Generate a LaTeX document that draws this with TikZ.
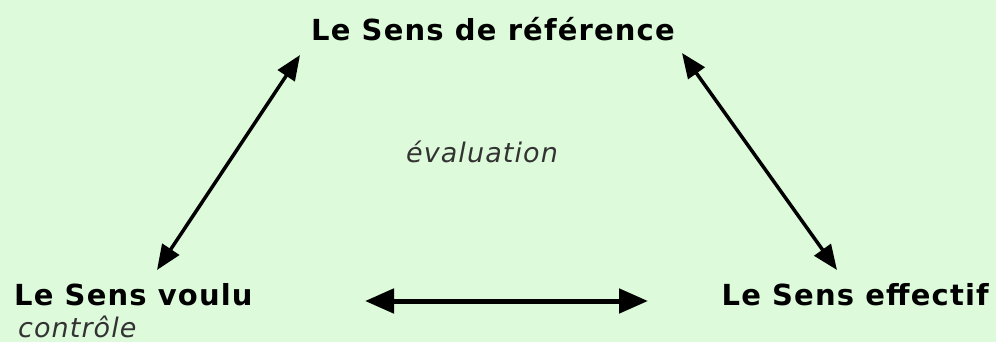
\documentclass[tikz,border=0pt]{standalone}
\usepackage{fontspec}
\usepackage{tikz}
\usetikzlibrary{arrows.meta}
\newfontfamily\sensfont{DejaVu Sans}[LetterSpace=4]
\definecolor{palegreen}{HTML}{DDFBDB}
\begin{document}
\begin{tikzpicture}[
			x=1pt,y=-1pt,
			every node/.style={inner sep=0pt},
			sens/.style={font=\sensfont\bfseries\fontsize{29}{30}\selectfont},
			note/.style={font=\sensfont\itshape\fontsize{27}{30}\selectfont,text=black!80},
			arr/.style={{Triangle[length=25pt,width=20pt]}-{Triangle[length=25pt,width=20pt]},line width=3.5pt},
			harr/.style={{Triangle[length=29pt,width=24pt]}-{Triangle[length=29pt,width=24pt]},line width=5pt}
			]
			\fill[palegreen] (0,0) rectangle (996,342);
			\useasboundingbox (0,0) rectangle (996,342);
			\node[sens,anchor=base] (ref) at (493,41) {Le Sens de référence};
			\node[sens,anchor=base west] (voulu) at (14,305) {Le Sens voulu};
			\node[sens,anchor=base east] (eff) at (989,305) {Le Sens effectif};
			\node[note,anchor=base] (eval) at (482,162) {évaluation};
			\node[note,anchor=base west] (ctrl) at (18,337) {contrôle};
			\coordinate (vr-a) at (157,270);
			\coordinate (vr-b) at (300,55);
			\coordinate (re-a) at (682,53);
			\coordinate (re-b) at (837,270);
			\coordinate (ve-a) at (365,301);
			\coordinate (ve-b) at (648,301);
			\draw[arr] (vr-a)--(vr-b);
			\draw[arr] (re-a)--(re-b);
			\draw[harr] (ve-a)--(ve-b);
		\end{tikzpicture}
\end{document}
